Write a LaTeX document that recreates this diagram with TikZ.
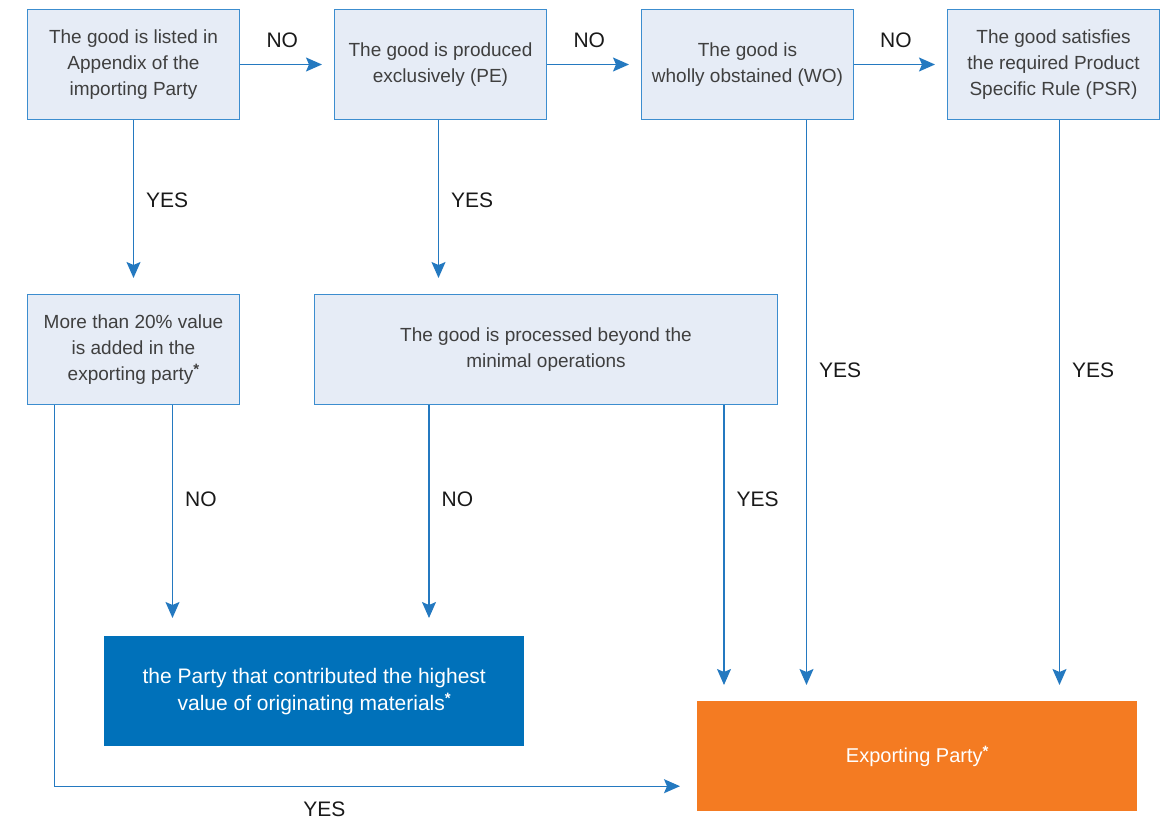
\documentclass[tikz,border=0pt]{standalone}
\usepackage{fontspec}
\setmainfont{Liberation Sans}
\usetikzlibrary{arrows.meta}

\definecolor{boxfill}{HTML}{E6ECF6}
\definecolor{boxline}{HTML}{3C8DCF}
\definecolor{flowline}{HTML}{2479C0}
\definecolor{partyblue}{HTML}{0071BA}
\definecolor{partyorange}{HTML}{F47B22}
\definecolor{boxtext}{HTML}{3F3F3F}

\newcommand\footstar{\raisebox{.6ex}{\fontsize{15}{15}\selectfont\bfseries *}}

\tikzset{
  test/.style={draw=boxline, line width=1pt, fill=boxfill, text=boxtext, anchor=north west,
    inner sep=0pt, align=center, minimum width=212, minimum height=110,
    font=\fontsize{19}{26}\selectfont},
  result/.style={anchor=north west, inner sep=0pt, align=center, text=white,
    minimum height=110, font=\fontsize{20}{27}\selectfont},
  flow/.style={draw=flowline, line width=1.3pt, shorten >=16,
    -{Stealth[length=16pt,width=14pt,inset=3pt]}},
  answer/.style={font=\fontsize{21}{24}\selectfont, text=black!90, inner sep=2pt},
}

\begin{document}
\begin{tikzpicture}[x=1pt,y=-1pt]
                \useasboundingbox (0,0) rectangle (1163,824);
                % tests along the top
                \node[test] (listed) at (27,9) {The good is listed in\\Appendix of the\\importing Party};
                \node[test] (produced) at (334,9) {The good is produced\\exclusively (PE)};
                \node[test] (obtained) at (641,9) {The good is\\wholly obstained (WO)};
                \node[test] (satisfies) at (947,9) {The good satisfies\\the required Product\\Specific Rule (PSR)};
                % second row
                \node[test] (added) at (27,294) {More than 20\% value\\is added in the\\exporting party\footstar};
                \node[test, minimum width=463] (processed) at (314,294) {The good is processed beyond the\\minimal operations};
                % outcomes
                \node[result, fill=partyblue, minimum width=420, font=\fontsize{21}{27}\selectfont] (highest) at (104,636) {the Party that contributed the highest\\value of originating materials\footstar};
                \node[result, fill=partyorange, minimum width=440] (exporting) at (697,701) {Exporting Party\footstar};
                % NO to the right
                \draw[flow, shorten >=12] (listed.east) -- (produced.west) node[answer, pos=.45, above=14] {NO};
                \draw[flow, shorten >=12] (produced.east) -- (obtained.west) node[answer, pos=.45, above=14] {NO};
                \draw[flow, shorten >=12] (obtained.east) -- (satisfies.west) node[answer, pos=.45, above=14] {NO};
                % YES downwards
                \draw[flow] (listed.south) -- (added.north) node[answer, pos=.46, right=10] {YES};
                \draw[flow] ([xshift=-2]produced.south) -- ([xshift=-2]produced.south |- processed.north) node[answer, pos=.46, right=10] {YES};
                \draw[flow] ([xshift=59]obtained.south) -- ([xshift=59]obtained.south |- exporting.north) node[answer, pos=.43, right=10] {YES};
                \draw[flow] ([xshift=6]satisfies.south) -- ([xshift=6]satisfies.south |- exporting.north) node[answer, pos=.43, right=10] {YES};
                \draw[flow, shorten >=18] ([xshift=39]added.south) -- ([xshift=39]added.south |- highest.north) node[answer, pos=.41, right=10] {NO};
                \draw[flow, shorten >=18] ([xshift=-117]processed.south) -- ([xshift=-117]processed.south |- highest.north) node[answer, pos=.41, right=10] {NO};
                \draw[flow] ([xshift=178]processed.south) -- ([xshift=178]processed.south |- exporting.north) node[answer, pos=.32, right=10] {YES};
                \draw[flow, shorten >=17] ([xshift=-79]added.south) |- ([yshift=-30]exporting.west) node[answer, pos=.71, below=13] {YES};
\end{tikzpicture}
\end{document}
